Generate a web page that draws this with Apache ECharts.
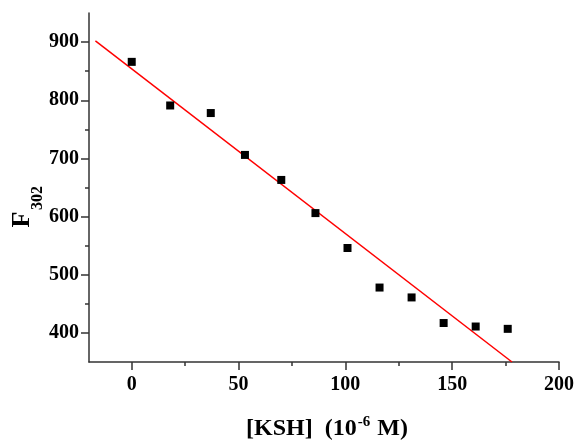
<!DOCTYPE html>
<html>
<head>
<meta charset="utf-8">
<script src="https://cdn.jsdelivr.net/npm/echarts@6/dist/echarts.min.js"></script>
<style>html,body{margin:0;padding:0;background:#fff}#c{width:577px;height:444px}</style>
</head>
<body>
<div id="c"></div>
<script>
// Data
const ksh = [0, 18, 37, 53, 70, 86, 101, 116, 131, 146, 161, 176];
const f302 = [866, 791, 778, 706, 663, 606, 546, 478, 461, 417, 411, 407];
// Linear fit line (end points)
const fitX = [-17, 178];
const fitY = [902, 350];
// Axis ticks
const xTicks = [0, 50, 100, 150, 200];
const xMinorTicks = [25, 75, 125, 175];
const yTicks = [400, 500, 600, 700, 800, 900];
const yMinorTicks = [450, 550, 650, 750, 850];

const FONT = '"Liberation Serif", "Times New Roman", serif';
const AXC = '#333';

const chart = echarts.init(document.getElementById('c'), null, {renderer: 'canvas'});
const baseX = {
  type: 'value', min: -20, max: 200,
  splitLine: {show: false}
};
const baseY = {
  type: 'value', min: 350, max: 950,
  splitLine: {show: false}
};
chart.setOption({
  animation: false,
  backgroundColor: '#fff',
  grid: {left: 89, right: 15, top: 13, bottom: 82, containLabel: false},
  xAxis: [
    Object.assign({}, baseX, {
      position: 'bottom',
      axisLine: {show: true, onZero: false, lineStyle: {color: AXC, width: 1.5}},
      axisTick: {show: true, inside: false, length: 8, customValues: xTicks, lineStyle: {color: AXC, width: 1.5}},
      axisLabel: {show: true, customValues: xTicks, margin: 13, color: '#000', fontFamily: FONT, fontWeight: 'bold', fontSize: 20}
    }),
    Object.assign({}, baseX, {
      position: 'bottom',
      axisLine: {show: false, onZero: false},
      axisTick: {show: true, inside: false, length: 4, customValues: xMinorTicks, lineStyle: {color: AXC, width: 1.5}},
      axisLabel: {show: false}
    })
  ],
  yAxis: [
    Object.assign({}, baseY, {
      position: 'left',
      axisLine: {show: true, onZero: false, lineStyle: {color: AXC, width: 1.5}},
      axisTick: {show: true, inside: false, length: 8, customValues: yTicks, lineStyle: {color: AXC, width: 1.5}},
      axisLabel: {show: true, customValues: yTicks, margin: 10, color: '#000', fontFamily: FONT, fontWeight: 'bold', fontSize: 20}
    }),
    Object.assign({}, baseY, {
      position: 'left',
      axisLine: {show: false, onZero: false},
      axisTick: {show: true, inside: false, length: 4, customValues: yMinorTicks, lineStyle: {color: AXC, width: 1.5}},
      axisLabel: {show: false}
    })
  ],
  graphic: [
    {
      type: 'text', x: 327, y: 441, z: 100,
      style: {
        text: '{m|[KSH]  (10}{sup|-6}{m| M)}',
        align: 'center', verticalAlign: 'bottom',
        fill: '#000',
        rich: {
          m: {fontFamily: FONT, fontWeight: 'bold', fontSize: 24, lineHeight: 26, verticalAlign: 'bottom', fill: '#000'},
          sup: {fontFamily: FONT, fontWeight: 'bold', fontSize: 15, lineHeight: 15, verticalAlign: 'top', fill: '#000', padding: [0, 1, 0, 1]}
        }
      }
    },
    {
      type: 'text', x: 22, y: 219.5, rotation: Math.PI / 2, z: 100,
      style: {
        text: 'F', align: 'center', verticalAlign: 'middle', fill: '#000',
        fontFamily: FONT, fontWeight: 'bold', fontSize: 26
      }
    },
    {
      type: 'text', x: 38, y: 198, rotation: Math.PI / 2, z: 100,
      style: {
        text: '302', align: 'center', verticalAlign: 'middle', fill: '#000',
        fontFamily: FONT, fontWeight: 'bold', fontSize: 16
      }
    }
  ],
  series: [
    {
      type: 'line',
      xAxisIndex: 0, yAxisIndex: 0,
      data: fitX.map((x, i) => [x, fitY[i]]),
      showSymbol: false, symbol: 'none',
      lineStyle: {color: '#ff0000', width: 1.5},
      z: 2, silent: true
    },
    {
      type: 'scatter',
      xAxisIndex: 0, yAxisIndex: 0,
      data: ksh.map((x, i) => [x, f302[i]]),
      symbol: 'rect', symbolSize: 8,
      itemStyle: {color: '#000', opacity: 1},
      z: 3
    }
  ]
});
</script>
</body>
</html>
